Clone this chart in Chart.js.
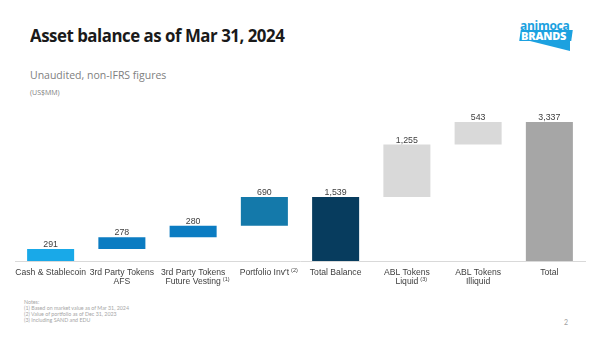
<!DOCTYPE html>
<html>
<head>
<meta charset="utf-8">
<script src="https://cdn.jsdelivr.net/npm/chart.js@4"></script>
<style>
  body { margin: 0; width: 600px; height: 338px; background: #fff; position: relative; overflow: hidden; font-family: "Open Sans", sans-serif; }
  .title { position: absolute; left: 30px; top: 23px; font-size: 18px; font-weight: 700; color: #1a1a1a; letter-spacing: -0.5px; transform: scaleX(0.935); transform-origin: left top; white-space: nowrap; }
  .sub { position: absolute; left: 30px; top: 68px; font-size: 10.5px; color: #808080; }
  .unit { position: absolute; left: 30px; top: 88px; font-size: 7px; color: #808080; }
  .notes { position: absolute; left: 24px; top: 299px; font-family: Lato, sans-serif; font-size: 5.3px; line-height: 6px; color: #a6a6a6; }
  .page { position: absolute; left: 564px; top: 318px; font-family: Lato, sans-serif; font-size: 7px; color: #a0a0a0; }
  .logo { position: absolute; left: 518px; top: 17px; width: 60px; height: 36px; }
  .logo .a { position: absolute; left: 2px; top: 0; font-family: "Open Sans", sans-serif; font-weight: 700; font-size: 12px; color: #1ca1e0; letter-spacing: -0.3px; }
  .logo .shape { position: absolute; left: 2px; top: 13px; width: 52px; height: 11px; background: #1ca1e0; transform: skewX(-8deg); }
  .logo .tri { position: absolute; left: 8px; top: 23px; width: 0; height: 0; border-left: 44px solid transparent; border-top: 11px solid #1ca1e0; }
  .logo .b { position: absolute; left: 3px; top: 11px; font-family: "Open Sans", sans-serif; font-weight: 800; font-size: 11px; color: #fff; letter-spacing: -0.2px; }
  #wrap { position: absolute; left: 0; top: 105px; width: 600px; height: 191px; }
</style>
</head>
<body>
<div class="title">Asset balance as of Mar 31, 2024</div>
<div class="sub">Unaudited, non-IFRS figures</div>
<div class="unit">(US$MM)</div>
<div class="logo"><div class="a">animoca</div><div class="shape"></div><div class="tri"></div><div class="b">BRANDS</div></div>
<div id="wrap"><canvas id="chart"></canvas></div>
<div class="notes">Notes:<br>(1) Based on market value as of Mar 31, 2024<br>(2) Value of portfolio as of Dec 31, 2023<br>(3) Including SAND and EDU</div>
<div class="page">2</div>
<script>
const categories = [
  ['Cash & Stablecoin'],
  ['3rd Party Tokens', 'AFS'],
  ['3rd Party Tokens', 'Future Vesting'],
  ['Portfolio Inv\'t'],
  ['Total Balance'],
  ['ABL Tokens', 'Liquid'],
  ['ABL Tokens', 'Illiquid'],
  ['Total']
];
const footnoteRefs = ['', '', '(1)', '(2)', '', '(3)', '', ''];
const starts = [0, 291, 569, 849, 0, 1539, 2794, 0];
const amounts = [291, 278, 280, 690, 1539, 1255, 543, 3337];
const colors = ['#19a9e8', '#0b7cc2', '#0b7cc2', '#1479aa', '#073c5e', '#d9d9d9', '#d9d9d9', '#a6a6a6'];

const FONT = '"Liberation Sans", Arial, sans-serif';

// value labels above bars
const valueLabels = {
  id: 'valueLabels',
  afterDatasetsDraw(chart) {
    const ctx = chart.ctx;
    const meta = chart.getDatasetMeta(0);
    ctx.save();
    ctx.font = '8.8px ' + FONT;
    ctx.fillStyle = '#404040';
    ctx.textAlign = 'center';
    meta.data.forEach((bar, i) => {
      ctx.fillText(amounts[i].toLocaleString('en-US'), bar.x, bar.y - 2);
    });
    ctx.restore();
  }
};

// category labels with superscript footnote markers
const categoryLabels = {
  id: 'categoryLabels',
  afterDraw(chart) {
    const ctx = chart.ctx;
    const x = chart.scales.x;
    const base = chart.chartArea.bottom;
    ctx.save();
    ctx.fillStyle = '#404040';
    categories.forEach((lines, i) => {
      const cx = x.getPixelForTick(i);
      lines.forEach((line, j) => {
        const y = base + 13.5 + j * 9;
        ctx.font = '8.6px ' + FONT;
        ctx.textAlign = 'center';
        ctx.fillText(line, cx, y);
        if (j === lines.length - 1 && footnoteRefs[i]) {
          const w = ctx.measureText(line).width;
          ctx.font = '5.5px ' + FONT;
          ctx.textAlign = 'left';
          ctx.fillText(footnoteRefs[i], cx + w / 2 + 2, y - 3);
        }
      });
    });
    ctx.restore();
  }
};

new Chart(document.getElementById('chart'), {
  type: 'bar',
  data: {
    labels: categories,
    datasets: [{
      data: starts.map((s, i) => [s, s + amounts[i]]),
      backgroundColor: colors,
      borderWidth: 0,
      categoryPercentage: 1,
      barPercentage: 0.66
    }]
  },
  options: {
    responsive: true,
    maintainAspectRatio: false,
    animation: false,
    layout: { padding: { left: 15, right: 15, top: 6, bottom: 35 } },
    plugins: { legend: { display: false }, tooltip: { enabled: false } },
    scales: {
      y: { display: false, min: 0, max: 3600 },
      x: {
        grid: { display: false, drawTicks: false },
        border: { display: true, color: '#d9d9d9', width: 1 },
        ticks: { display: false }
      }
    }
  },
  plugins: [valueLabels, categoryLabels]
});
</script>
</body>
</html>
